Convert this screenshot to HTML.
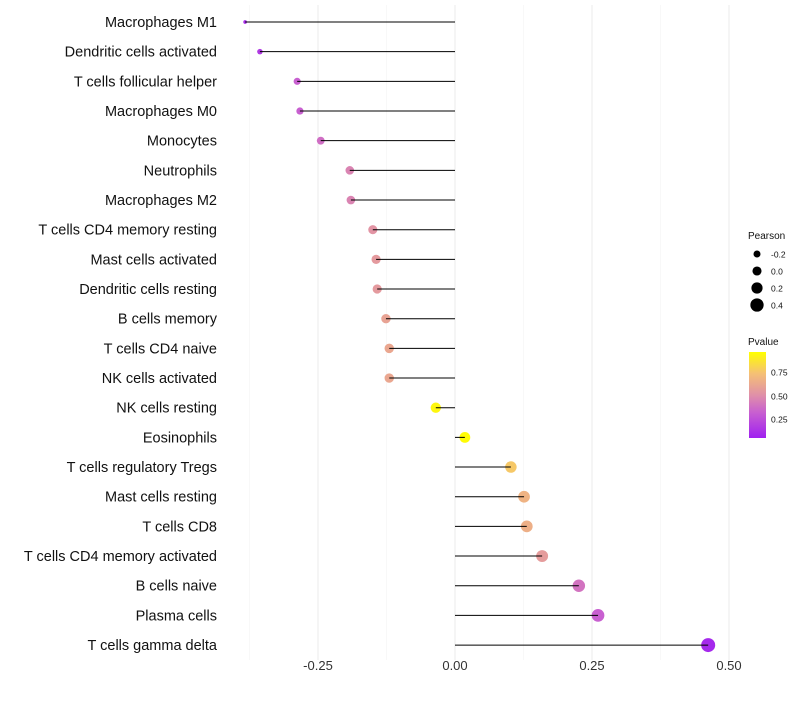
<!DOCTYPE html>
<html><head><meta charset="utf-8"><style>
body{margin:0;background:#fff;font-family:"Liberation Sans",sans-serif}
</style></head><body>
<svg id="chart" width="800" height="700" xmlns="http://www.w3.org/2000/svg">
<defs><linearGradient id="pg" x1="0" y1="1" x2="0" y2="0">
<stop offset="0" stop-color="#A020F0"/><stop offset="0.3" stop-color="#C860D0"/><stop offset="0.5" stop-color="#E090A8"/><stop offset="0.75" stop-color="#F5C075"/><stop offset="1" stop-color="#FFFF00"/></linearGradient></defs>
<g id="grid"></g><g id="points"></g><g id="marks"></g><g id="labels"></g>
</svg>
<script>
const categories=["Macrophages M1","Dendritic cells activated","T cells follicular helper","Macrophages M0","Monocytes","Neutrophils","Macrophages M2","T cells CD4 memory resting","Mast cells activated","Dendritic cells resting","B cells memory","T cells CD4 naive","NK cells activated","NK cells resting","Eosinophils","T cells regulatory  Tregs","Mast cells resting","T cells CD8","T cells CD4 memory activated","B cells naive","Plasma cells","T cells gamma delta"];
const pearson=[-0.383,-0.356,-0.288,-0.283,-0.245,-0.192,-0.19,-0.15,-0.144,-0.142,-0.126,-0.12,-0.12,-0.035,0.018,0.102,0.126,0.131,0.159,0.226,0.261,0.462];
const pvalues=[0.06,0.12,0.3,0.3,0.36,0.45,0.45,0.52,0.55,0.55,0.6,0.62,0.62,0.97,0.99,0.78,0.68,0.66,0.56,0.38,0.3,0.04];
const xTicks=[-0.25,0,0.25,0.5];
const xTickLabels=["-0.25","0.00","0.25","0.50"];
const xMinor=[-0.375,-0.125,0.125,0.375];
const sizeLegend=[-0.2,0,0.2,0.4];
const NS="http://www.w3.org/2000/svg";
const x=v=>455+v*548;
const y=i=>22+i*29.67;
const r=v=>1.83+5.63*Math.sqrt(Math.max(0,v+0.383));
function col(p){
  const st=[[0,[160,32,240]],[0.3,[200,96,208]],[0.5,[224,144,168]],[0.75,[245,192,117]],[1,[255,255,0]]];
  for(let k=1;k<st.length;k++){if(p<=st[k][0]){const a=st[k-1],b=st[k];const t=(p-a[0])/(b[0]-a[0]);
    return "rgb("+a[1].map((c,j)=>Math.round(c+(b[1][j]-c)*t)).join(",")+")";}}
  return "rgb(255,255,0)";
}
function mk(tag,at,parent,txt){const e=document.createElementNS(NS,tag);for(const k in at)e.setAttribute(k,at[k]);if(txt!==undefined)e.textContent=txt;parent.appendChild(e);return e;}
const grid=document.getElementById('grid'),marks=document.getElementById('marks'),points=document.getElementById('points'),labels=document.getElementById('labels');
xMinor.forEach(v=>{const l=mk('line',{x1:x(v),x2:x(v),y1:5,y2:660,stroke:'#f3f3f3','stroke-width':0.6},grid);

});
xTicks.forEach((v,i)=>{const l=mk('line',{x1:x(v),x2:x(v),y1:5,y2:660,stroke:'#ebebeb','stroke-width':1},grid);


const t=mk('text',{x:x(v),y:670,'font-size':13,'text-anchor':'middle',fill:'#333'},labels,xTickLabels[i]);

});
categories.forEach((c,i)=>{
  const yy=y(i);
  const cc=mk('circle',{cx:x(pearson[i]),cy:yy,r:r(pearson[i]),fill:col(pvalues[i])},points);
  
  
  const ln=mk('line',{x1:x(0),x2:x(pearson[i]),y1:yy,y2:yy,stroke:'#000','stroke-width':1},marks);
  
  
  const t=mk('text',{x:217,y:yy+5,'font-size':14.5,'text-anchor':'end',fill:'#111'},labels,c);
  
  
});
const lt=mk('text',{x:748,y:239,'font-size':10,fill:'#111'},labels,'Pearson');


sizeLegend.forEach((v,i)=>{const yy=254+i*17;
 const c=mk('circle',{cx:757,cy:yy,r:3.5+i*1.05,fill:'#000'},labels);
 
 
 const t=mk('text',{x:771,y:yy+3.5,'font-size':8.5,fill:'#111'},labels,v===0?'0.0':String(v));
 
 });
const pt=mk('text',{x:748,y:345,'font-size':10,fill:'#111'},labels,'Pvalue');


const bar=mk('rect',{x:749,y:352,width:17,height:86,fill:'url(#pg)'},labels);


[[0.75,372],[0.5,396],[0.25,419]].forEach(([v,yy])=>{
 const t=mk('text',{x:771,y:yy+3.5,'font-size':8.5,fill:'#111'},labels,v.toFixed(2));
 
 });
</script>
</body></html>
